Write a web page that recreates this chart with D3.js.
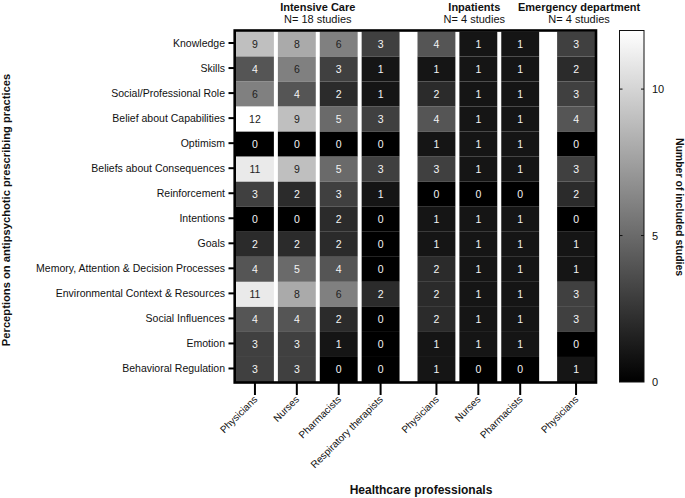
<!DOCTYPE html>
<html><head><meta charset="utf-8">
<script src="https://cdn.jsdelivr.net/npm/d3@7/dist/d3.min.js"></script>
<style>
html,body{margin:0;padding:0;background:#fff;}
svg{display:block;font-family:"Liberation Sans",Arial,Helvetica,sans-serif;}
</style></head>
<body>
<svg id="chart" width="685" height="498"></svg>
<script>
// ---------- DATA ----------
const domains = ["Knowledge","Skills","Social/Professional Role","Belief about Capabilities","Optimism",
  "Beliefs about Consequences","Reinforcement","Intentions","Goals","Memory, Attention & Decision Processes",
  "Environmental Context & Resources","Social Influences","Emotion","Behavioral Regulation"];
const groups = ["Intensive Care","Inpatients","Emergency department"];
const groupN = ["N= 18 studies","N= 4 studies","N= 4 studies"];
const professions = ["Physicians","Nurses","Pharmacists","Respiratory therapists","Physicians","Nurses","Pharmacists","Physicians"];
const professionGroup = [0,0,0,0,1,1,1,2];
const icuPhysicians   = [9,4,6,12,0,11,3,0,2,4,11,4,3,3];
const icuNurses       = [8,6,4,9,0,9,2,0,2,5,8,4,3,3];
const icuPharmacists  = [6,3,2,5,0,5,3,2,2,4,6,2,1,0];
const icuRespiratory  = [3,1,1,3,0,3,1,0,0,0,2,0,0,0];
const inpPhysicians   = [4,1,2,4,1,3,0,1,1,2,2,2,1,1];
const inpNurses       = [1,1,1,1,1,1,0,1,1,1,1,1,1,0];
const inpPharmacists  = [1,1,1,1,1,1,0,1,1,1,1,1,1,0];
const edPhysicians    = [3,2,3,4,0,3,2,0,1,1,3,3,0,1];
const columnValues = [icuPhysicians,icuNurses,icuPharmacists,icuRespiratory,inpPhysicians,inpNurses,inpPharmacists,edPhysicians];
const colorTicks = [0,5,10];
const colorMax = 12;

// ---------- LAYOUT ----------
const svg = d3.select("#chart");
const groupGapUnits = 1/3;
const colUnit = professions.map((p,i)=> i + professionGroup[i]*groupGapUnits);
const totalUnits = professions.length + (groups.length-1)*groupGapUnits;
const x = d3.scaleLinear().domain([0,totalUnits]).range([236,599]);
const step = x(1)-x(0);
const cellGap = 4;
const cellW = step - cellGap;
const y = d3.scaleBand().domain(domains).range([31.5,382]).padding(0);
const color = d3.scaleLinear().domain([0,colorMax]).range(["#000000","#ffffff"]);
const cx = i => x(colUnit[i]) + cellW/2;

// cells
const cells = [];
columnValues.forEach((arr,ci)=>arr.forEach((v,ri)=>cells.push({ci,ri,v})));
const gCells = svg.append("g");
gCells.selectAll("rect").data(cells).join("rect")
  .attr("x",d=>x(colUnit[d.ci])).attr("y",d=>y(domains[d.ri]))
  .attr("width",cellW).attr("height",y.bandwidth())
  .attr("fill",d=>color(d.v));
gCells.selectAll("text").data(cells).join("text")
  .attr("x",d=>cx(d.ci)).attr("y",d=>y(domains[d.ri])+y.bandwidth()/2)
  .attr("dy","0.36em").attr("text-anchor","middle")
  .attr("font-size",10.5).attr("fill",d=>d.v>=6?"#222":"#f4f4f4")
  .text(d=>d.v);

// frame
svg.append("rect").attr("x",234.7).attr("y",30.5).attr("width",361.3).attr("height",352)
  .attr("fill","none").attr("stroke","#000").attr("stroke-width",2.6);

// y axis ticks + labels
const gy = svg.append("g");
domains.forEach(d=>{
  const yy = y(d)+y.bandwidth()/2 - 1;
  gy.append("line").attr("x1",228.5).attr("x2",234).attr("y1",yy).attr("y2",yy).attr("stroke","#000").attr("stroke-width",2);
  gy.append("text").attr("x",225).attr("y",yy).attr("dy","0.35em").attr("text-anchor","end")
    .attr("font-size",10.5).attr("fill","#111").text(d);
});

// x axis ticks + labels
const gx = svg.append("g");
professions.forEach((p,i)=>{
  const xx = cx(i);
  gx.append("line").attr("x1",xx).attr("x2",xx).attr("y1",383).attr("y2",395).attr("stroke","#000").attr("stroke-width",2);
  gx.append("text").attr("transform",`translate(${xx+3},${400}) rotate(-45)`)
    .attr("text-anchor","end").attr("font-size",10).attr("fill","#111").text(p);
});

// group headers
const headerDx = [0,-4,3];
groups.forEach((g,gi)=>{
  const idx = professionGroup.map((pg,i)=>pg===gi?i:-1).filter(i=>i>=0);
  const center = (cx(idx[0])+cx(idx[idx.length-1]))/2 + headerDx[gi];
  svg.append("text").attr("x",center).attr("y",10.5).attr("text-anchor","middle")
    .attr("font-size",11).attr("font-weight","bold").attr("fill","#111").text(g);
  svg.append("text").attr("x",center).attr("y",23).attr("text-anchor","middle")
    .attr("font-size",11).attr("fill","#111").text(groupN[gi]);
});

// axis titles
svg.append("text").attr("x",421).attr("y",494).attr("text-anchor","middle")
  .attr("font-size",12).attr("font-weight","bold").attr("fill","#111").text("Healthcare professionals");
svg.append("text").attr("transform","translate(10,210) rotate(-90)").attr("text-anchor","middle")
  .attr("font-size",11.2).attr("font-weight","bold").attr("fill","#111").text("Perceptions on antipsychotic prescribing practices");

// colorbar
const cb = d3.scaleLinear().domain([0,colorMax]).range([382,30.5]);
const defs = svg.append("defs");
const grad = defs.append("linearGradient").attr("id","cbg").attr("x1",0).attr("y1",1).attr("x2",0).attr("y2",0);
grad.append("stop").attr("offset",0).attr("stop-color",color(0));
grad.append("stop").attr("offset",1).attr("stop-color",color(colorMax));
svg.append("rect").attr("x",619.5).attr("y",cb(colorMax)).attr("width",24.5).attr("height",cb(0)-cb(colorMax))
  .attr("fill","url(#cbg)").attr("stroke","#111").attr("stroke-width",1);
colorTicks.forEach(t=>{
  if(t>0){
    svg.append("line").attr("x1",619.5).attr("x2",622.5).attr("y1",cb(t)).attr("y2",cb(t)).attr("stroke","#111");
    svg.append("line").attr("x1",641).attr("x2",644).attr("y1",cb(t)).attr("y2",cb(t)).attr("stroke","#111");
  }
  svg.append("text").attr("x",652).attr("y",cb(t)).attr("dy","0.36em").attr("font-size",11).attr("fill","#111").text(t);
});
svg.append("text").attr("transform","translate(675.5,207) rotate(90)").attr("text-anchor","middle")
  .attr("font-size",10.5).attr("font-weight","bold").attr("fill","#111").text("Number of included studies");
</script>
</body></html>
